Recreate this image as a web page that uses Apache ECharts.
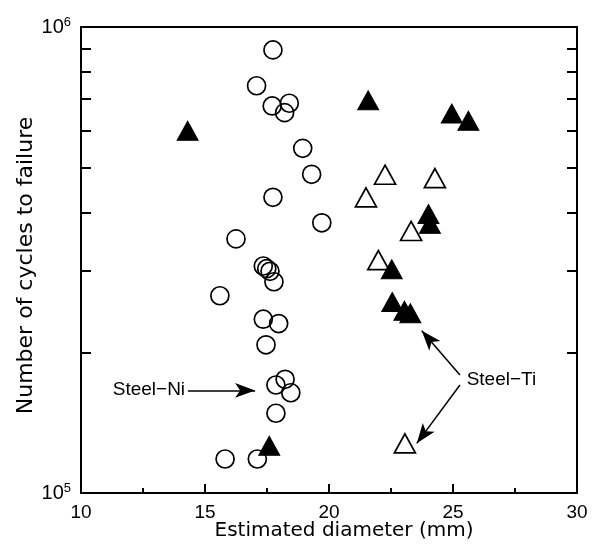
<!DOCTYPE html>
<html>
<head>
<meta charset="utf-8">
<script src="https://cdn.jsdelivr.net/npm/echarts@6/dist/echarts.min.js"></script>
<style>
  html, body { margin: 0; padding: 0; background: #fff; }
  #chart { width: 592px; height: 548px; }
</style>
</head>
<body>
<div id="chart"></div>
<script>
// Steel-Ni specimens (open circles): [diameter mm, cycles]
const steelNi = [
  [17.74, 8.93e5], [17.08, 7.48e5], [17.71, 6.77e5], [18.40, 6.86e5], [18.21, 6.55e5],
  [18.94, 5.49e5], [19.30, 4.83e5], [17.74, 4.31e5], [19.71, 3.80e5], [16.25, 3.51e5],
  [17.35, 3.07e5], [17.49, 3.03e5], [17.62, 2.99e5], [17.78, 2.84e5], [15.60, 2.65e5],
  [17.35, 2.36e5], [17.97, 2.31e5], [17.46, 2.08e5], [17.86, 1.705e5], [18.23, 1.754e5],
  [18.46, 1.641e5], [17.86, 1.483e5], [15.81, 1.183e5], [17.11, 1.183e5]
]
// Steel-Ti, open triangles
const steelTiOpen = [
  [22.26, 4.82e5], [24.27, 4.74e5], [21.49, 4.31e5], [23.31, 3.65e5], [21.99, 3.16e5],
  [23.06, 1.278e5]
]
// Steel-Ti, filled triangles
const steelTiFilled = [
  [14.30, 5.99e5], [21.58, 6.96e5], [24.95, 6.52e5], [25.62, 6.29e5], [24.01, 3.97e5],
  [24.07, 3.78e5], [22.53, 3.02e5], [22.55, 2.57e5], [23.04, 2.46e5], [23.28, 2.43e5],
  [17.59, 1.263e5]
]
const xTicks = [10, 15, 20, 25, 30]
const yLabelValues = [1e5, 1e6]
const yMinorValues = [2e5, 3e5, 4e5, 5e5, 6e5, 7e5, 8e5, 9e5]

// annotations, in data coordinates
const niLabel = [11.28, 1.664e5]
const niArrow = [[14.31, 1.66e5], [17.02, 1.66e5]]
const tiLabel = [25.55, 1.753e5]
const tiArrows = [
  [[25.28, 1.791e5], [23.74, 2.23e5]],
  [[25.28, 1.705e5], [23.54, 1.278e5]]
]

const chart = echarts.init(document.getElementById('chart'), null, { renderer: 'canvas' })
const black = '#000'
const tickFont = '"Liberation Sans", Arial, sans-serif'
const titleFont = '"DejaVu Sans", sans-serif'

function yAxisBase(position) {
  return {
    type: 'log',
    logBase: 10,
    min: 1e5,
    max: 1e6,
    position,
    axisLine: { show: true, lineStyle: { color: black, width: 2 } },
    axisTick: { show: true, inside: true, length: 10, customValues: yMinorValues, lineStyle: { color: black, width: 2 } },
    minorTick: { show: false },
    splitLine: { show: false }
  }
}

chart.setOption({
  animation: false,
  backgroundColor: '#fff',
  grid: {
    left: 81, right: 15, top: 27, bottom: 55,
    show: true, borderColor: black, borderWidth: 2,
    outerBoundsMode: 'none'
  },
  xAxis: {
    type: 'value',
    min: 10,
    max: 30,
    interval: 5,
    name: 'Estimated diameter (mm)',
    nameLocation: 'middle',
    nameGap: 28,
    nameMoveOverlap: false,
    nameTextStyle: { fontFamily: titleFont, fontSize: 20, color: black, padding: [0, 0, 0, 30] },
    axisLine: { lineStyle: { color: black, width: 2 } },
    axisTick: { inside: true, length: 9, lineStyle: { color: black, width: 2 } },
    minorTick: { show: true, splitNumber: 2, length: 5, lineStyle: { color: black, width: 2 } },
    splitLine: { show: false },
    axisLabel: {
      margin: 10, fontFamily: tickFont, fontSize: 19, color: black,
      customValues: xTicks,
      formatter: v => String(Math.round(v))
    }
  },
  yAxis: [
    Object.assign(yAxisBase('left'), {
      name: 'Number of cycles to failure',
      nameLocation: 'middle',
      nameGap: 44,
      nameMoveOverlap: false,
      nameTextStyle: { fontFamily: titleFont, fontSize: 22, color: black, padding: [0, 11, 0, 0] },
      axisLabel: {
        show: true,
        margin: 10,
        fontFamily: tickFont,
        fontSize: 20,
        color: black,
        customValues: yLabelValues,
        formatter: v => '10{sup|' + Math.round(Math.log10(v)) + '}',
        rich: {
          sup: { fontFamily: tickFont, fontSize: 13, color: black, padding: [0, 0, 9, 0] }
        }
      }
    }),
    Object.assign(yAxisBase('right'), { axisLabel: { show: false } })
  ],
  series: [
    {
      name: 'Steel-Ni',
      type: 'scatter',
      symbol: 'circle',
      symbolSize: 18,
      data: steelNi,
      itemStyle: { color: 'rgba(0,0,0,0)', borderColor: black, borderWidth: 1.7, opacity: 1 },
      silent: true,
      markLine: {
        silent: true,
        symbol: ['none', 'arrow'],
        symbolSize: [11, 20],
        lineStyle: { color: black, width: 1.5, type: 'solid' },
        label: { show: false },
        data: [niArrow, ...tiArrows].map(([a, b]) => [{ coord: a }, { coord: b }])
      },
      markPoint: {
        silent: true,
        symbol: 'circle',
        symbolSize: 0,
        label: { show: true, position: 'right', distance: 0, color: black, fontFamily: tickFont, fontSize: 19 },
        data: [
          { coord: niLabel, label: { formatter: 'Steel\u2212Ni' } },
          { coord: tiLabel, label: { formatter: 'Steel\u2212Ti' } }
        ]
      }
    },
    {
      name: 'Steel-Ti open',
      type: 'scatter',
      symbol: 'triangle',
      symbolSize: [21, 19],
      data: steelTiOpen,
      itemStyle: { color: '#fff', borderColor: black, borderWidth: 1.7, opacity: 1 },
      silent: true
    },
    {
      name: 'Steel-Ti filled',
      type: 'scatter',
      symbol: 'triangle',
      symbolSize: [21, 19],
      data: steelTiFilled,
      itemStyle: { color: black, borderColor: black, borderWidth: 1, opacity: 1 },
      silent: true
    }
  ]
})
</script>
</body>
</html>
